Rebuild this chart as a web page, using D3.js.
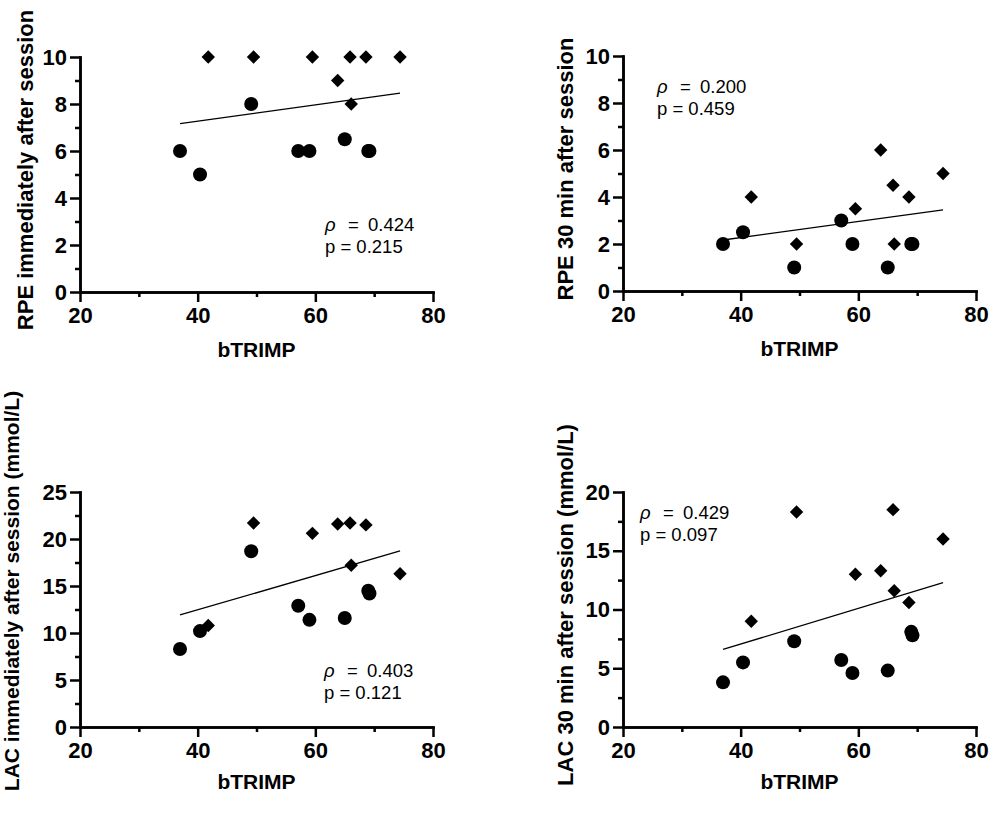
<!DOCTYPE html>
<html>
<head>
<meta charset="utf-8">
<script src="https://cdn.jsdelivr.net/npm/d3@7"></script>
<style>
body { margin: 0; background: #fff; }
svg { font-family: "Liberation Sans", Arial, Helvetica, sans-serif; }
</style>
</head>
<body>
<svg id="chart" width="990" height="816"></svg>
<script>
// bTRIMP per subject: circles and diamonds are the two groups
var circleX = [37.0, 40.4, 49.1, 57.1, 59.0, 65.0, 69.0, 69.2]
var diamondX = [41.8, 49.5, 59.5, 63.8, 65.9, 66.1, 68.6, 74.4]

var rpeNowCircle = [6, 5, 8, 6, 6, 6.5, 6, 6]
var rpeNowDiamond = [10, 10, 10, 9, 10, 8, 10, 10]
var rpe30Circle = [2, 2.5, 1, 3, 2, 1, 2, 2]
var rpe30Diamond = [4, 2, 3.5, 6, 4.5, 2, 4, 5]
var lacNowCircle = [8.3, 10.2, 18.7, 12.9, 11.4, 11.6, 14.5, 14.2]
var lacNowDiamond = [10.8, 21.7, 20.6, 21.6, 21.7, 17.2, 21.5, 16.3]
var lac30Circle = [3.8, 5.5, 7.3, 5.7, 4.6, 4.8, 8.1, 7.8]
var lac30Diamond = [9.0, 18.3, 13.0, 13.3, 18.5, 11.6, 10.6, 16.0]

var xTicks = [20, 40, 60, 80]
var xMinorTicks = [30, 50, 70]
var rpeTicks = [0, 2, 4, 6, 8, 10]
var rpeMinorTicks = [1, 3, 5, 7, 9]
var lacNowTicks = [0, 5, 10, 15, 20, 25]
var lacNowMinorTicks = [2.5, 7.5, 12.5, 17.5, 22.5]
var lac30Ticks = [0, 5, 10, 15, 20]
var lac30MinorTicks = [2.5, 7.5, 12.5, 17.5]

var xTitle = 'bTRIMP'
var yTitles = ['RPE immediately after session', 'RPE 30 min after session',
    'LAC immediately after session (mmol/L)', 'LAC 30 min after session (mmol/L)']
var rhoValues = ['0.424', '0.200', '0.403', '0.429']
var pValues = ['0.215', '0.459', '0.121', '0.097']

const plotW = 353
const plotH = 235

// layout of the four panels (axis origin, title and annotation offsets)
var panels = [
    { left: 80, bottom: 292, circ: rpeNowCircle, diam: rpeNowDiamond, ticks: rpeTicks, minor: rpeMinorTicks, titleDx: -47, titleDy: -122, titleSize: 22, noteDx: 245, noteDy: -61 },
    { left: 623, bottom: 291, circ: rpe30Circle, diam: rpe30Diamond, ticks: rpeTicks, minor: rpeMinorTicks, titleDx: -50, titleDy: -122, titleSize: 22, noteDx: 34, noteDy: -198 },
    { left: 80, bottom: 727, circ: lacNowCircle, diam: lacNowDiamond, ticks: lacNowTicks, minor: lacNowMinorTicks, titleDx: -61, titleDy: -136, titleSize: 21, noteDx: 244, noteDy: -50 },
    { left: 623, bottom: 727, circ: lac30Circle, diam: lac30Diamond, ticks: lac30Ticks, minor: lac30MinorTicks, titleDx: -50, titleDy: -122, titleSize: 22, noteDx: 17, noteDy: -208 }
]

var svg = d3.select('#chart')

panels.forEach((p, i) => drawPanel(p, i))

function styleAxis(g) {
    g.attr('font-family', null).attr('font-size', null)
    g.selectAll('path').attr('stroke', '#000').attr('stroke-width', 2.5).attr('stroke-linecap', 'square')
    g.selectAll('line').attr('stroke', '#000').attr('stroke-width', 2.5)
    g.selectAll('text').attr('fill', '#000').style('font-size', '22px').style('font-weight', 'bold')
}

function drawPanel(p, i) {
    const g = svg.append('g').attr('transform', 'translate(' + p.left + ',' + p.bottom + ')')

    const yMax = p.ticks[p.ticks.length - 1]
    const xScale = d3.scaleLinear().domain([20, 80]).range([0, plotW])
    const yScale = d3.scaleLinear().domain([0, yMax]).range([0, -plotH])

    // minor ticks first, majors and domain on top
    g.append('g')
        .call(d3.axisBottom(xScale).tickValues(xMinorTicks).tickSize(5).tickSizeOuter(0).tickFormat(''))
        .call(styleAxis)
    g.append('g')
        .call(d3.axisLeft(yScale).tickValues(p.minor).tickSize(5).tickSizeOuter(0).tickFormat(''))
        .call(styleAxis)
    g.append('g')
        .call(d3.axisBottom(xScale).tickValues(xTicks).tickSize(10).tickSizeOuter(0).tickPadding(5))
        .call(styleAxis)
    g.append('g')
        .call(d3.axisLeft(yScale).tickValues(p.ticks).tickSize(10).tickSizeOuter(0).tickPadding(3))
        .call(styleAxis)

    // least squares fit through all points
    const xs = circleX.concat(diamondX)
    const ys = p.circ.concat(p.diam)
    const mx = d3.mean(xs), my = d3.mean(ys)
    const slope = d3.sum(xs, (x, k) => (x - mx) * (ys[k] - my)) / d3.sum(xs, x => (x - mx) * (x - mx))
    const ext = d3.extent(xs)
    const fit = ext.map(x => [x, my + slope * (x - mx)])
    g.append('path')
        .attr('d', d3.line().x(d => xScale(d[0])).y(d => yScale(d[1]))(fit))
        .attr('fill', 'none')
        .attr('stroke', '#000')
        .attr('stroke-width', 1.3)

    g.selectAll('circle.pt')
        .data(circleX.map((x, k) => [x, p.circ[k]]))
        .join('circle')
        .attr('class', 'pt')
        .attr('cx', d => xScale(d[0]))
        .attr('cy', d => yScale(d[1]))
        .attr('r', 7)
        .attr('fill', '#000')

    const diamond = d3.symbol().type(d3.symbolSquare).size(90)
    g.selectAll('path.dm')
        .data(diamondX.map((x, k) => [x, p.diam[k]]))
        .join('path')
        .attr('class', 'dm')
        .attr('d', diamond)
        .attr('transform', d => 'translate(' + xScale(d[0]) + ',' + yScale(d[1]) + ') rotate(45)')
        .attr('fill', '#000')

    // axis titles
    g.append('text')
        .attr('x', plotW / 2)
        .attr('y', i < 2 ? 65 : 62)
        .attr('text-anchor', 'middle')
        .style('font-size', '21px')
        .style('font-weight', 'bold')
        .text(xTitle)

    g.append('text')
        .attr('transform', 'translate(' + p.titleDx + ',' + p.titleDy + ') rotate(-90)')
        .attr('text-anchor', 'middle')
        .style('font-size', p.titleSize + 'px')
        .style('font-weight', 'bold')
        .text(yTitles[i])

    // correlation note
    const note = g.append('g')
        .attr('transform', 'translate(' + p.noteDx + ',' + p.noteDy + ')')
        .style('font-size', '18.5px')
    note.append('text').attr('x', 0).attr('y', 0).style('font-style', 'italic').text('\u03C1')
    note.append('text').attr('x', 23).attr('y', 0).text('=')
    note.append('text').attr('x', 43).attr('y', 0).text(rhoValues[i])
    note.append('text').attr('x', 0).attr('y', 22).text('p = ' + pValues[i])
}
</script>
</body>
</html>
